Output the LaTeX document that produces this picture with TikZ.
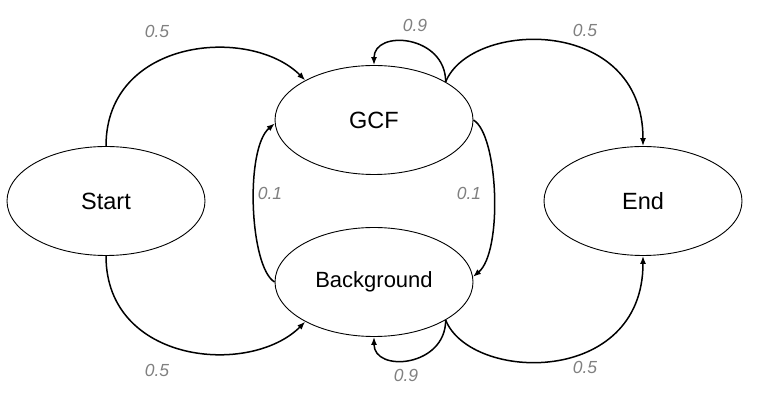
\documentclass[tikz,border=0pt]{standalone}
\usepackage{fontspec}
\setmainfont{Liberation Sans}
\usetikzlibrary{shapes.geometric,arrows.meta}
\begin{document}
\begin{tikzpicture}[x=1pt,y=1pt,
  state/.style={ellipse,draw=black,line width=0.9pt,minimum width=198pt,minimum height=109pt,inner sep=0pt,font=\fontsize{23.5}{25}\selectfont},
  conn/.style={line width=1.5pt,-{Latex[length=8pt,width=6pt]}},
  prob/.style={font=\fontsize{17.5}{19}\selectfont\itshape,text=black!50,inner sep=0pt}]
\useasboundingbox (0,0) rectangle (775,409);
\node[state] (start) at (106,208) {Start};
\node[state] (gcf) at (374,289) {GCF};
\node[state,font=\fontsize{22}{24}\selectfont] (bg) at (374,127) {Background};
\node[state] (end) at (643,208) {End};
% Start -> GCF / Background
\draw[conn] (start.north) .. controls +(0,108) and +(-55,55) .. (gcf.150);
\draw[conn] (start.south) .. controls +(0,-108) and +(-55,-55) .. (bg.-150);
% GCF -> End, Background -> End
\draw[conn] (gcf.28) .. controls +(25,62) and +(0,131) .. (end.north);
\draw[conn] (bg.-28) .. controls +(25,-62) and +(0,-131) .. (end.south);
% self loops
\draw[conn] (gcf.28) .. controls +(0,47) and +(0,36) .. (gcf.north);
\draw[conn] (bg.-28) .. controls +(0,-47) and +(0,-36) .. (bg.south);
% GCF <-> Background
\draw[conn] (gcf.east) .. controls +(25,-15) and +(30,25) .. (bg.3);
\draw[conn] (bg.west) .. controls +(-25,15) and +(-30,-25) .. (gcf.182);
% labels
\node[prob] (l1) at (157,378) {0.5};
\node[prob] (l2) at (157,39) {0.5};
\node[prob] (l3) at (415,384) {0.9};
\node[prob] (l4) at (406,34) {0.9};
\node[prob] (l5) at (585,379) {0.5};
\node[prob] (l6) at (585,42) {0.5};
\node[prob] (l7) at (270,216) {0.1};
\node[prob] (l8) at (469,216) {0.1};
\end{tikzpicture}
\end{document}
